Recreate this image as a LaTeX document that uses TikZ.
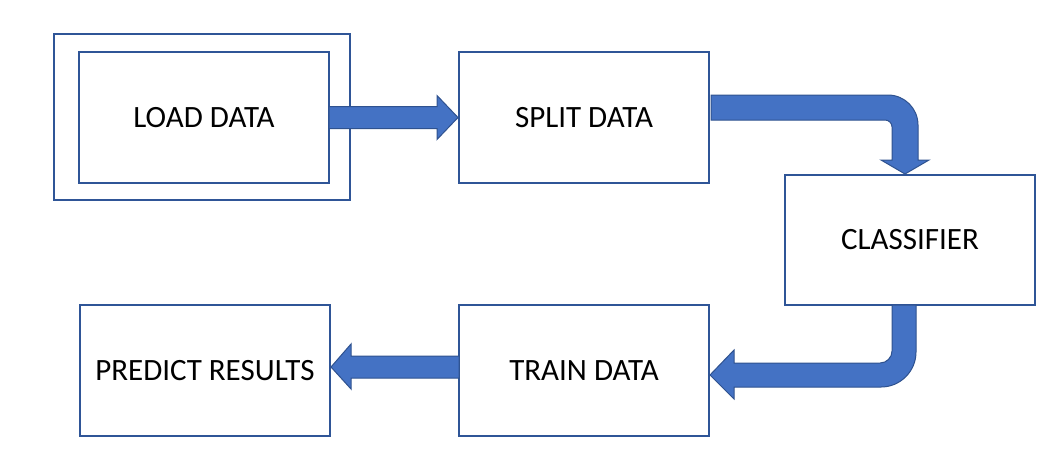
\documentclass[tikz,border=0pt]{standalone}
\usepackage{fontspec}
\setmainfont{Carlito}
\usetikzlibrary{calc}
\definecolor{boxline}{RGB}{47,85,151}
\definecolor{arrowfill}{RGB}{68,114,196}
\definecolor{arrowline}{RGB}{47,82,143}
\begin{document}
\begin{tikzpicture}[x=1pt,y=-1pt,
  box/.style={draw=boxline,line width=2pt,fill=white,minimum width=250pt,minimum height=131pt,inner sep=0pt,
    font=\fontsize{31}{37}\selectfont},
  frame/.style={draw=boxline,line width=2pt,minimum width=296pt,minimum height=166pt,inner sep=0pt},
  blockarrow/.style={fill=arrowfill,draw=arrowline,line width=1pt,line join=miter}]
\useasboundingbox (0,0) rectangle (1056,475);
\node[frame] (loadframe) at (202,117) {};
\node[box] (load) at (204,117.5) {LOAD DATA};
\node[box] (split) at (584,117.5) {SPLIT DATA};
\node[box,minimum height=130pt] (classifier) at (910,240) {CLASSIFIER};
\node[box] (train) at (584,370.5) {TRAIN DATA};
\node[box] (predict) at (205,370.5) {PREDICT RESULTS};
% load -> split
\draw[blockarrow] ($(load.east)+(-1,-11)$) -- ($(split.west)+(-21,-11)$) -- ($(split.west)+(-21,-22)$)
  -- (split.west) -- ($(split.west)+(-21,22)$) -- ($(split.west)+(-21,11)$) -- ($(load.east)+(-1,11)$) -- cycle;
% split -> classifier
\draw[blockarrow] ($(split.east)+(1,-22.5)$) -- (888,95) arc[start angle=-90,end angle=0,radius=30]
  -- ($(classifier.north)+(8,-14)$) -- ($(classifier.north)+(19,-14)$) -- ($(classifier.north)+(-5,0)$)
  -- ($(classifier.north)+(-29,-14)$) -- ($(classifier.north)+(-18,-14)$) -- (892,127)
  arc[start angle=0,end angle=-90,radius=7] -- ($(split.east)+(1,2.5)$) -- cycle;
% classifier -> train
\draw[blockarrow] ($(classifier.south)+(-18,-1)$) -- ($(classifier.south)+(6,-1)$) -- (916,352)
  arc[start angle=0,end angle=90,radius=35] -- ($(train.east)+(24,16.5)$) -- ($(train.east)+(24,28.5)$)
  -- ($(train.east)+(0,4.5)$) -- ($(train.east)+(24,-20.5)$) -- ($(train.east)+(24,-7.5)$)
  -- (880,363) arc[start angle=90,end angle=0,radius=12] -- cycle;
% train -> predict
\draw[blockarrow] ($(train.west)+(1,-14.5)$) -- ($(predict.east)+(20,-14.5)$) -- ($(predict.east)+(20,-26.5)$)
  -- ($(predict.east)+(0,-3.5)$) -- ($(predict.east)+(20,18.5)$) -- ($(predict.east)+(20,7.5)$)
  -- ($(train.west)+(1,7.5)$) -- cycle;
\end{tikzpicture}
\end{document}
